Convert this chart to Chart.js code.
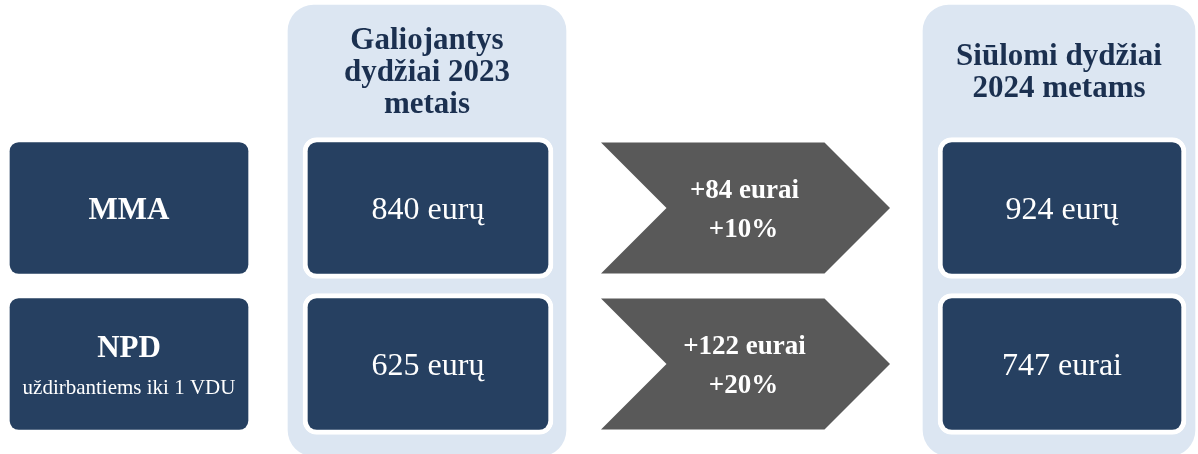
<!DOCTYPE html>
<html>
<head>
<meta charset="utf-8">
<script src="https://cdn.jsdelivr.net/npm/chart.js@4.4.0/dist/chart.umd.min.js"></script>
<style>
  html, body { margin: 0; padding: 0; background: #ffffff; }
  canvas { display: block; }
</style>
</head>
<body>
<canvas id="chart" width="1198" height="454"></canvas>
<script>
// ---------- DATA ----------
const categories = ['MMA', 'NPD'];
const categoryNotes = ['', 'uždirbantiems iki 1 VDU'];
const columnTitles = [
  ['Galiojantys', 'dydžiai 2023', 'metais'],
  ['Siūlomi dydžiai', '2024 metams']
];
const values2023 = [840, 625];
const units2023 = ['eurų', 'eurų'];
const values2024 = [924, 747];
const units2024 = ['eurų', 'eurai'];
const changeEur = [84, 122];
const changeUnits = ['eurai', 'eurai'];
const changePct = [10, 20];

// ---------- LAYOUT (layout units on hidden linear scales) ----------
const LAYOUT = {
  width: 1198, height: 454,
  rowCenter: [208, 364],
  panel: { x: [[288, 566], [923, 1195]], center: 230.5, thickness: 451, titleBaselines: [[44, 76, 108], [60, 92]] },
  labelCol: [10, 248],
  col2023: [303, 553],
  changeCol: [601, 890],
  col2024: [938, 1186],
  boxThickness: 131,
  framedThickness: 141
};

const COLORS = {
  navy: '#264061',
  panel: '#dce6f2',
  chevron: '#595959',
  title: '#1b3050',
  white: '#ffffff'
};
const SERIF = '"Liberation Serif", "Times New Roman", "DejaVu Serif", serif';

const rowPoints = (span) => categories.map((c, i) => ({ x: span, y: LAYOUT.rowCenter[i] }));

const yAxis = () => ({ type: 'linear', min: 0, max: LAYOUT.height, reverse: true, offset: false, display: false });

const textPlugin = {
  id: 'infographicText',
  afterDatasetsDraw(chart) {
    const ctx = chart.ctx;
    const centerOf = (dsIndex, i) => {
      const el = chart.getDatasetMeta(dsIndex).data[i];
      const p = el.getProps(['x', 'y', 'base', 'height'], true);
      return { cx: (p.x + p.base) / 2, cy: p.y, left: Math.min(p.x, p.base), right: Math.max(p.x, p.base), h: p.height };
    };
    ctx.save();
    ctx.textAlign = 'center';
    ctx.textBaseline = 'alphabetic';

    // Chevrons for the change column
    const chevMeta = chart.getDatasetMeta(3);
    chevMeta.data.forEach((el, i) => {
      const c = centerOf(3, i);
      const top = c.cy - c.h / 2, bottom = c.cy + c.h / 2, d = c.h / 2;
      ctx.beginPath();
      ctx.moveTo(c.left, top);
      ctx.lineTo(c.right - d, top);
      ctx.lineTo(c.right, c.cy);
      ctx.lineTo(c.right - d, bottom);
      ctx.lineTo(c.left, bottom);
      ctx.lineTo(c.left + d, c.cy);
      ctx.closePath();
      ctx.fillStyle = COLORS.chevron;
      ctx.fill();
      ctx.fillStyle = COLORS.white;
      ctx.font = 'bold 27px ' + SERIF;
      ctx.fillText('+' + changeEur[i] + ' ' + changeUnits[i], c.cx - 1, c.cy - 10);
      ctx.fillText('+' + changePct[i] + '%', c.cx - 2, c.cy + 29);
    });

    // Panel titles
    const panelMeta = chart.getDatasetMeta(0);
    panelMeta.data.forEach((el, i) => {
      const c = centerOf(0, i);
      const top = c.cy - c.h / 2;
      ctx.fillStyle = COLORS.title;
      ctx.font = 'bold 31px ' + SERIF;
      columnTitles[i].forEach((line, k) => {
        ctx.fillText(line, c.cx, top + LAYOUT.panel.titleBaselines[i][k]);
      });
    });

    // Row labels
    categories.forEach((cat, i) => {
      const c = centerOf(1, i);
      ctx.fillStyle = COLORS.white;
      ctx.font = 'bold 31px ' + SERIF;
      if (categoryNotes[i]) {
        ctx.fillText(cat, c.cx, c.cy - 7);
        ctx.font = '21px ' + SERIF;
        ctx.fillText(categoryNotes[i], c.cx, c.cy + 30);
      } else {
        ctx.fillText(cat, c.cx, c.cy + 10.5);
      }
    });

    // Values
    ctx.font = '32px ' + SERIF;
    ctx.fillStyle = COLORS.white;
    values2023.forEach((v, i) => {
      const c = centerOf(2, i);
      ctx.fillText(v + ' ' + units2023[i], c.cx, c.cy + 10.5);
    });
    values2024.forEach((v, i) => {
      const c = centerOf(4, i);
      ctx.fillText(v + ' ' + units2024[i], c.cx, c.cy + 10.5);
    });
    ctx.restore();
  }
};

const common = { grouped: false, borderSkipped: false };

new Chart(document.getElementById('chart'), {
  type: 'bar',
  data: {
    datasets: [
      Object.assign({
        label: 'panels',
        order: 10,
        yAxisID: 'yPanel',
        data: LAYOUT.panel.x.map(span => ({ x: span, y: LAYOUT.panel.center })),
        backgroundColor: COLORS.panel,
        borderWidth: 0,
        borderRadius: 26,
        barThickness: LAYOUT.panel.thickness,
        maxBarThickness: LAYOUT.panel.thickness
      }, common),
      Object.assign({
        label: 'categories',
        order: 1,
        yAxisID: 'yLabel',
        data: rowPoints(LAYOUT.labelCol),
        backgroundColor: COLORS.navy,
        borderWidth: 0,
        borderRadius: 9,
        barThickness: LAYOUT.boxThickness,
        maxBarThickness: LAYOUT.boxThickness
      }, common),
      Object.assign({
        label: '2023',
        order: 1,
        yAxisID: 'y2023',
        data: rowPoints(LAYOUT.col2023),
        backgroundColor: COLORS.navy,
        borderColor: COLORS.white,
        borderWidth: 5,
        borderRadius: 14,
        barThickness: LAYOUT.framedThickness,
        maxBarThickness: LAYOUT.framedThickness
      }, common),
      Object.assign({
        label: 'change',
        order: 1,
        yAxisID: 'yChange',
        data: rowPoints(LAYOUT.changeCol),
        backgroundColor: 'rgba(0,0,0,0)',
        borderWidth: 0,
        barThickness: LAYOUT.boxThickness,
        maxBarThickness: LAYOUT.boxThickness
      }, common),
      Object.assign({
        label: '2024',
        order: 1,
        yAxisID: 'y2024',
        data: rowPoints(LAYOUT.col2024),
        backgroundColor: COLORS.navy,
        borderColor: COLORS.white,
        borderWidth: 5,
        borderRadius: 14,
        barThickness: LAYOUT.framedThickness,
        maxBarThickness: LAYOUT.framedThickness
      }, common)
    ]
  },
  options: {
    indexAxis: 'y',
    responsive: false,
    animation: false,
    devicePixelRatio: 1,
    layout: { padding: 0 },
    plugins: { legend: { display: false }, tooltip: { enabled: false } },
    scales: {
      x: { type: 'linear', min: 0, max: LAYOUT.width, offset: false, display: false },
      yPanel: yAxis(),
      yLabel: yAxis(),
      y2023: yAxis(),
      yChange: yAxis(),
      y2024: yAxis()
    }
  },
  plugins: [textPlugin]
});
</script>
</body>
</html>
